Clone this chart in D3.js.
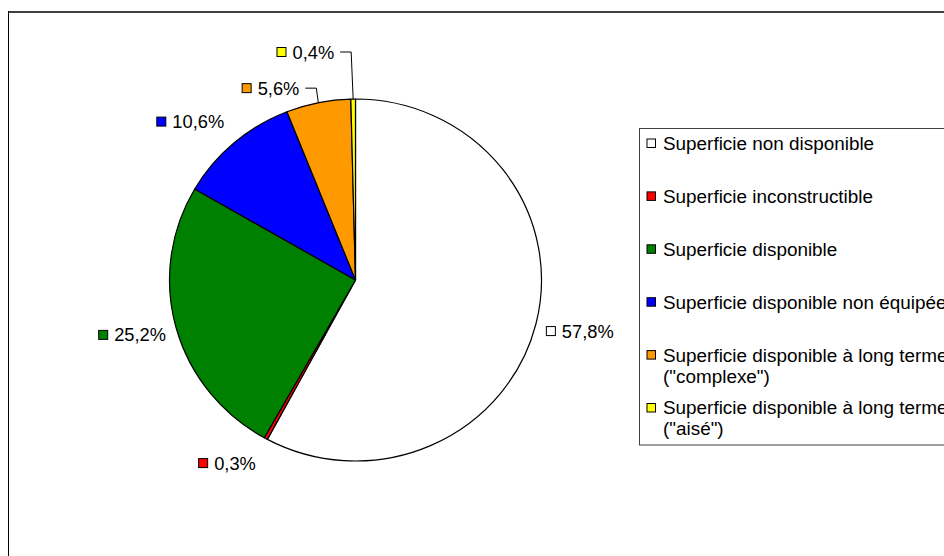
<!DOCTYPE html>
<html>
<head>
<meta charset="utf-8">
<script src="https://cdn.jsdelivr.net/npm/d3@7/dist/d3.min.js"></script>
<style>
  html, body { margin: 0; padding: 0; background: #fff; }
  svg { display: block; }
  text { font-family: "Liberation Sans", Arial, sans-serif; fill: #000; }
</style>
</head>
<body>
<svg id="chart" width="944" height="556"></svg>
<script>
// ---- data ----
const categories = [
  "Superficie non disponible",
  "Superficie inconstructible",
  "Superficie disponible",
  "Superficie disponible non équipée",
  "Superficie disponible à long terme (\"complexe\")",
  "Superficie disponible à long terme (\"aisé\")"
];
const values = [57.8, 0.3, 25.2, 10.6, 5.6, 0.4];
const colors = ["#FFFFFF", "#FF0000", "#008000", "#0000FF", "#FF9900", "#FFFF00"];
// labels dragged out with a leader line (index -> lift above the rim)
const leaderLift = { 4: 14.5, 5: 47 };

// ---- layout ----
const W = 944, H = 556;
const cx = 355.5, cy = 280, rx = 186, ry = 181;
const labelFont = 18.3, legendFont = 18.9;

const svg = d3.select("#chart");
svg.append("rect").attr("width", W).attr("height", H).attr("fill", "#fff");

// chart frame (extends beyond the window on the right and bottom)
svg.append("line").attr("x1", 8).attr("x2", W + 5).attr("y1", 12).attr("y2", 12)
  .attr("stroke", "#404040").attr("stroke-width", 2);
svg.append("line").attr("x1", 8.5).attr("x2", 8.5).attr("y1", 11).attr("y2", H + 5)
  .attr("stroke", "#000").attr("stroke-width", 1);

const locale = d3.formatLocale({ decimal: ",", thousands: " ", grouping: [3], currency: ["", "€"] });
const fmt = locale.format(".1f");

const pie = d3.pie().sort(null).value(d => d);
const arcs = pie(values);
const arc = d3.arc().innerRadius(0).outerRadius(rx);

const pieG = svg.append("g")
  .attr("transform", `translate(${cx},${cy}) scale(1,${ry / rx})`);
pieG.selectAll("path").data(arcs).enter().append("path")
  .attr("d", arc)
  .attr("fill", (d, i) => colors[i])
  .attr("stroke", "#000")
  .attr("stroke-width", 1.2)
  .attr("vector-effect", "non-scaling-stroke")
  .attr("stroke-linejoin", "round");

// ---- data labels ----
const sq = 10, gap = 6;
const labG = svg.append("g");
arcs.forEach((a, i) => {
  const mid = (a.startAngle + a.endAngle) / 2;
  const s = Math.sin(mid), c = Math.cos(mid);
  const ex = cx + rx * s, ey = cy - ry * c;
  const g = labG.append("g");
  const t = g.append("text")
    .attr("font-size", labelFont)
    .attr("x", sq + gap).attr("y", 0)
    .attr("dy", "0.36em")
    .text(fmt(values[i]) + "%");
  const tw = t.node().getComputedTextLength();
  const w = sq + gap + tw;
  g.append("rect")
    .attr("x", 0.5).attr("y", -sq / 2 + 0.5)
    .attr("width", sq - 1).attr("height", sq - 1)
    .attr("fill", colors[i]).attr("stroke", "#000").attr("stroke-width", 1);
  let gx, gy;
  if (leaderLift[i] !== undefined) {
    const elx = ex - 2, ely = ey - leaderLift[i];
    const hx = elx - 11;
    labG.append("polyline")
      .attr("points", `${ex},${ey} ${elx},${ely} ${hx},${ely}`)
      .attr("fill", "none").attr("stroke", "#000").attr("stroke-width", 1);
    gx = hx - 6 - w; gy = ely;
  } else {
    const ccx = ex + Math.sign(s) * (w / 2 + 10);
    const ccy = ey - c * 28;
    gx = ccx - w / 2; gy = ccy;
  }
  g.attr("transform", `translate(${gx},${gy})`);
});

// ---- legend ----
const lx = 639.5, ly = 128.5, lh = 316.5;
const legG = svg.append("g");
legG.append("rect").attr("x", lx).attr("y", ly).attr("width", 400).attr("height", lh)
  .attr("fill", "#fff").attr("stroke", "#404040").attr("stroke-width", 1);
const step = 52.9, lsq = 8.5;
categories.forEach((name, i) => {
  const top = ly + 10.5 + i * step;
  legG.append("rect")
    .attr("x", lx + 7.5).attr("y", top)
    .attr("width", lsq).attr("height", lsq)
    .attr("fill", colors[i]).attr("stroke", "#000").attr("stroke-width", 1);
  const k = name.indexOf(" (");
  const lines = k >= 0 ? [name.slice(0, k), name.slice(k + 1)] : [name];
  const t = legG.append("text").attr("font-size", legendFont);
  lines.forEach((ln, j) => {
    t.append("tspan").attr("x", lx + 23.5)
      .attr("y", top + lsq / 2 + 6.7 + j * 21)
      .text(ln);
  });
});
</script>
</body>
</html>
